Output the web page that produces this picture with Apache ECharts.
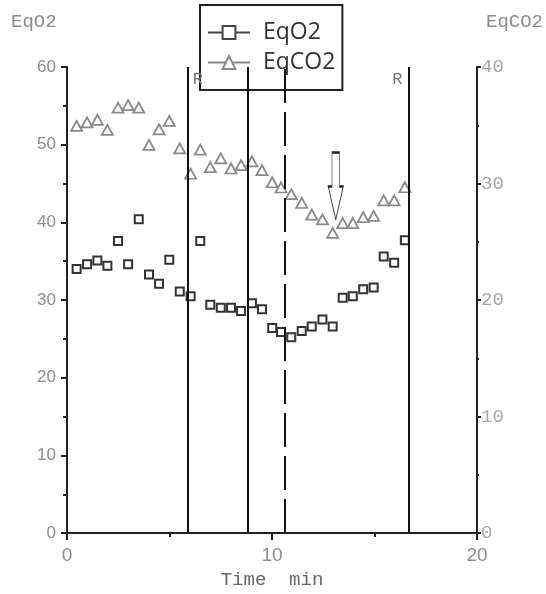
<!DOCTYPE html>
<html>
<head>
<meta charset="utf-8">
<script src="https://cdn.jsdelivr.net/npm/echarts@6/dist/echarts.min.js"></script>
<style>
  html, body { margin: 0; padding: 0; background: #fff; }
  #chart { width: 546px; height: 594px; }
</style>
</head>
<body>
<div id="chart"></div>
<script>
// Sample times (min)
const times = [0.47, 0.98, 1.48, 1.97, 2.49, 2.98, 3.5, 4.0, 4.49, 4.99,
               5.5, 6.03, 6.5, 6.99, 7.5, 8.0, 8.49, 9.02, 9.51, 10.01,
               10.44, 10.94, 11.45, 11.94, 12.46, 12.96, 13.45, 13.94, 14.45, 14.96,
               15.45, 15.96, 16.48];
// Ventilatory equivalent for O2 (left axis)
const eqO2 = [34.0, 34.6, 35.1, 34.4, 37.6, 34.6, 40.4, 33.3, 32.1, 35.2,
              31.1, 30.5, 37.6, 29.4, 29.0, 29.0, 28.6, 29.6, 28.8, 26.4,
              25.9, 25.2, 26.0, 26.6, 27.5, 26.6, 30.3, 30.5, 31.4, 31.6,
              35.6, 34.8, 37.7];
// Ventilatory equivalent for CO2 (right axis)
const eqCO2 = [34.95, 35.24, 35.46, 34.61, 36.51, 36.73, 36.51, 33.32, 34.65, 35.37,
               33.01, 30.84, 32.90, 31.40, 32.16, 31.29, 31.57, 31.91, 31.15, 30.11,
               29.66, 29.09, 28.33, 27.34, 26.92, 25.77, 26.61, 26.61, 27.12, 27.23,
               28.56, 28.56, 29.68];
// Phase markers (min); the third one is dashed
const phaseLines = [5.89, 8.84, 10.64, 16.66];
const dashedPhase = 10.64;
// Arrow marking the EqCO2 minimum [time, EqCO2]
const arrowAt = [13.11, 26.92];
// Tick labels
const xTickLabels = [0, 10, 20];
const leftTickLabels = [0, 10, 20, 30, 40, 50, 60];
const rightTickLabels = [0, 10, 20, 30, 40];

const axisLineStyle = { color: '#222', width: 2 };
const grayText = '#8c8c8c';

const o2Points = times.map((t, i) => [t, eqO2[i]]);
const co2Points = times.map((t, i) => [t, eqCO2[i]]);

const chart = echarts.init(document.getElementById('chart'), null, { renderer: 'canvas' });

chart.setOption({
  animation: false,
  backgroundColor: '#fff',
  grid: { left: 67, right: 69, top: 67, bottom: 54, containLabel: false },
  legend: {
    left: 200, top: 5,
    orient: 'vertical',
    backgroundColor: '#fff',
    borderColor: '#222', borderWidth: 2, borderRadius: 0,
    padding: [16, 7, 16, 7],
    itemWidth: 42, itemHeight: 16, itemGap: 7,
    textStyle: { fontFamily: 'Open Sans', fontSize: 23, color: '#333', padding: [0, 0, 0, 8] },
    data: [
      { name: 'EqO2',
        itemStyle: { color: '#fff', borderColor: '#444', borderWidth: 2 },
        lineStyle: { color: '#444', width: 2, opacity: 1 } },
      { name: 'EqCO2',
        itemStyle: { color: '#fff', borderColor: '#888', borderWidth: 2 },
        lineStyle: { color: '#888', width: 2, opacity: 1 } }
    ]
  },
  graphic: [
    { type: 'text', left: 11, top: 12,
      style: { text: 'EqO2', font: '19px "Liberation Mono"', fill: grayText } },
    { type: 'text', left: 486, top: 12,
      style: { text: 'EqCO2', font: '19px "Liberation Mono"', fill: grayText } }
  ],
  xAxis: {
    type: 'value', min: 0, max: 20, interval: 10,
    name: 'Time  min', nameLocation: 'middle', nameGap: 32,
    nameTextStyle: { fontFamily: 'Liberation Mono', fontSize: 19, color: '#666' },
    axisLine: { show: true, onZero: false, lineStyle: axisLineStyle },
    axisTick: { show: true, length: 7, lineStyle: axisLineStyle },
    minorTick: { show: true, splitNumber: 2, length: 4, lineStyle: { color: '#222', width: 2 } },
    axisLabel: { margin: 13, fontFamily: 'Liberation Sans', fontSize: 19, color: grayText,
      formatter: v => xTickLabels.includes(v) ? String(v) : '' },
    splitLine: { show: false }
  },
  yAxis: [
    {
      type: 'value', min: 0, max: 60, interval: 10, position: 'left',
      axisLine: { show: true, onZero: false, lineStyle: axisLineStyle },
      axisTick: { show: true, length: 6, lineStyle: axisLineStyle },
      minorTick: { show: true, splitNumber: 2, length: 4, lineStyle: { color: '#222', width: 2 } },
      axisLabel: { margin: 11, fontFamily: 'Liberation Sans', fontSize: 17, color: grayText,
        formatter: v => leftTickLabels.includes(v) ? String(v) : '' },
      splitLine: { show: false }
    },
    {
      type: 'value', min: 0, max: 40, interval: 10, position: 'right',
      axisLine: { show: true, onZero: false, lineStyle: axisLineStyle },
      axisTick: { show: true, length: 4, lineStyle: axisLineStyle },
      minorTick: { show: true, splitNumber: 2, length: 2, lineStyle: { color: '#222', width: 2 } },
      axisLabel: { margin: 4, fontFamily: 'Liberation Mono', fontSize: 19, color: '#a8a8a8',
        formatter: v => rightTickLabels.includes(v) ? String(v) : '' },
      splitLine: { show: false }
    }
  ],
  series: [
    {
      name: 'EqO2', type: 'line', yAxisIndex: 0, data: o2Points,
      symbol: 'rect', symbolSize: 8, showSymbol: true, showAllSymbol: true,
      lineStyle: { width: 0, opacity: 0 },
      itemStyle: { color: '#fff', borderColor: '#333', borderWidth: 2 },
      z: 3,
      markLine: {
        silent: true, symbol: ['none', 'none'],
        label: { show: false },
        lineStyle: { color: '#111', width: 2, type: 'solid' },
        data: phaseLines.map(x => x === dashedPhase
          ? { xAxis: x, lineStyle: { type: [34, 9], color: '#111', width: 2 } }
          : { xAxis: x })
      },
      markPoint: {
        silent: true,
        symbol: 'circle', symbolSize: 0,
        data: [
          { coord: [phaseLines[0], 58.35],
            label: { show: true, formatter: 'R', position: 'right', distance: 5,
              fontFamily: 'Liberation Mono', fontSize: 17, color: '#777' } },
          { coord: [phaseLines[3], 58.35],
            label: { show: true, formatter: 'R', position: 'left', distance: 6,
              fontFamily: 'Liberation Mono', fontSize: 17, color: '#777' } }
        ]
      }
    },
    {
      name: 'EqCO2', type: 'line', yAxisIndex: 1, data: co2Points,
      symbol: 'triangle', symbolSize: [11, 10], showSymbol: true, showAllSymbol: true,
      lineStyle: { width: 0, opacity: 0 },
      itemStyle: { color: '#fff', borderColor: '#8a8a8a', borderWidth: 1.8 },
      z: 3,
      markPoint: {
        silent: true,
        data: [{
          coord: arrowAt,
          symbol: 'path://M4,0 L12,0 L12,34 L16,34 L8,67 L0,34 L4,34 Z',
          symbolSize: [15, 67],
          symbolOffset: [0, '-50%'],
          itemStyle: { color: '#fff', borderColor: '#222', borderWidth: 1.2 },
          label: { show: false }
        }]
      }
    }
  ]
});
</script>
</body>
</html>
